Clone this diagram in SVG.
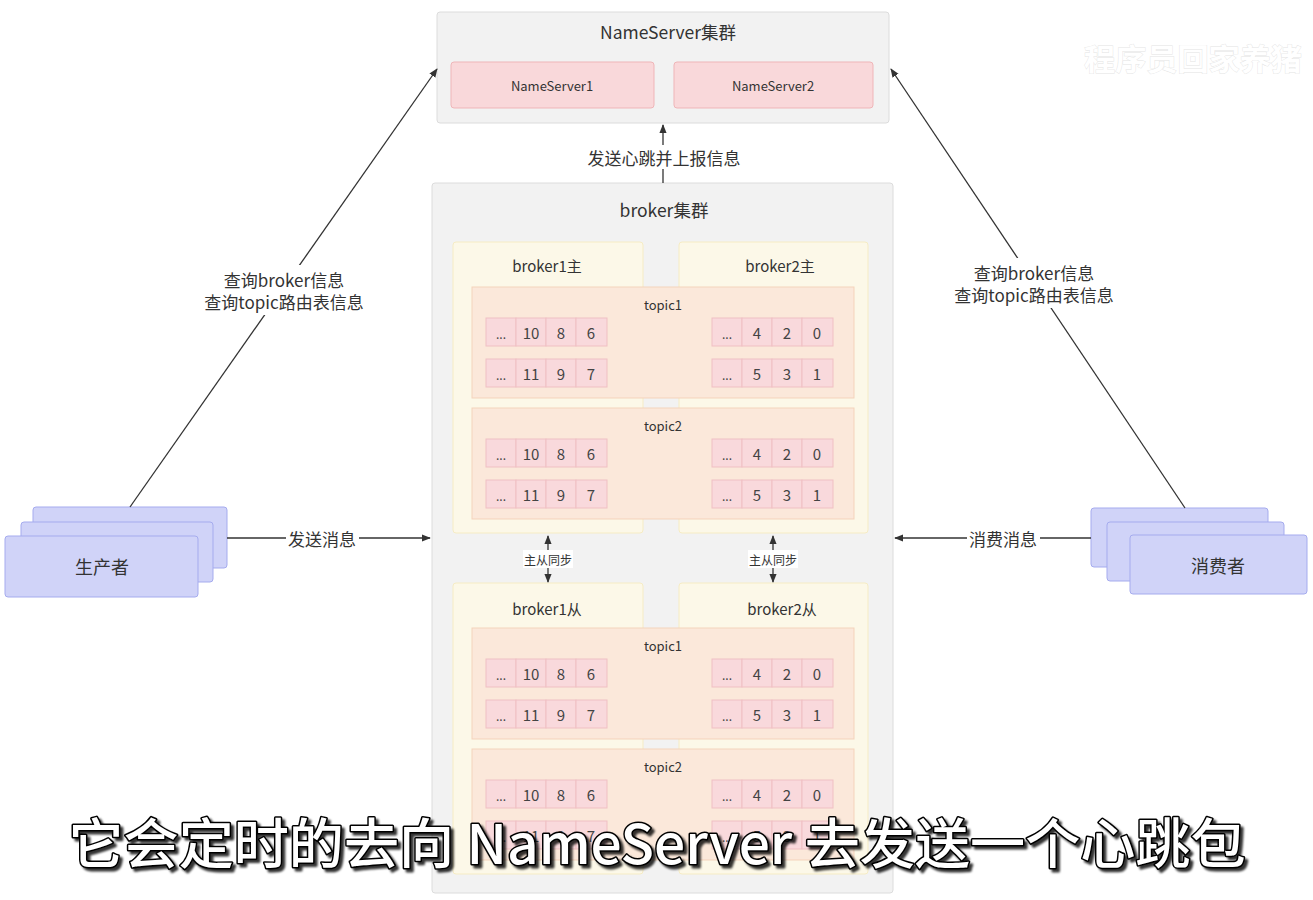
<svg xmlns="http://www.w3.org/2000/svg" width="1313" height="900" viewBox="0 0 1313 900">
<style>
text{font-family:"Noto Sans CJK SC","Microsoft YaHei","Noto Sans",sans-serif;fill:#333;text-anchor:middle;dominant-baseline:central}
.cluster{fill:#f2f2f2;stroke:#dcdcdc;stroke-width:1}
.ns{fill:#f9d8da;stroke:#efb5b8;stroke-width:1}
.broker{fill:#fcf8e8;stroke:#f6ecc4;stroke-width:1}
.topic{fill:#fbe8da;stroke:#f4d3bb;stroke-width:1}
.cell{fill:#f9d9dc;stroke:#f0bfc3;stroke-width:1}
.client{fill:#d0d3f8;stroke:#a5abee;stroke-width:1}
.t17{font-size:17.5px}
.lab{font-size:17px}
.t18{font-size:18px}
.t15{font-size:15px}
.t13{font-size:13px}
.t12{font-size:12px}
.num{font-size:15px;fill:#444}
.dots{font-size:12px;fill:#444}
.line{stroke:#333;stroke-width:1.3;fill:none}
.lbg{fill:#ffffff}
.sub{font-size:54px;fill:#ffffff;stroke:#000;stroke-width:3;paint-order:stroke;stroke-linejoin:round;font-weight:500}
.wm{font-size:30px;fill:#ffffff;stroke:#e4e4e4;stroke-width:0.8;paint-order:stroke;font-weight:bold}
</style>
<defs>
<marker id="ah" viewBox="0 0 10 10" refX="9" refY="5" markerWidth="9" markerHeight="9" markerUnits="userSpaceOnUse" orient="auto-start-reverse">
<path d="M0,1 L10,5 L0,9 z" fill="#333"/>
</marker>
<filter id="shadow" x="-5%" y="-30%" width="110%" height="160%">
<feDropShadow dx="3" dy="3" stdDeviation="0.8" flood-color="#000" flood-opacity="0.8"/>
</filter>
</defs>
<rect width="1313" height="900" fill="#ffffff"/>

<g id="nameserver-cluster">
<rect class="cluster" x="437" y="12" width="452" height="111" rx="3"/>
<text class="t17" x="668" y="31">NameServer集群</text>
</g>
<g id="nameserver1">
<rect class="ns" x="451" y="62" width="203" height="46" rx="3"/>
<text class="t13" x="552" y="85">NameServer1</text>
</g>
<g id="nameserver2">
<rect class="ns" x="674" y="62" width="199" height="46" rx="3"/>
<text class="t13" x="773" y="85">NameServer2</text>
</g>

<g id="broker-cluster">
<rect class="cluster" x="432" y="183" width="461" height="710" rx="3"/>
<text class="t17" x="664" y="209">broker集群</text>
</g>

<g id="broker1-master">
<rect class="broker" x="453" y="242" width="190" height="291" rx="3"/>
<text class="t15" x="547" y="265">broker1主</text>
</g>
<g id="broker2-master">
<rect class="broker" x="679" y="242" width="189" height="291" rx="3"/>
<text class="t15" x="780" y="265">broker2主</text>
</g>
<g id="broker1-slave">
<rect class="broker" x="453" y="583" width="190" height="291" rx="3"/>
<text class="t15" x="547" y="608">broker1从</text>
</g>
<g id="broker2-slave">
<rect class="broker" x="679" y="583" width="189" height="291" rx="3"/>
<text class="t15" x="782" y="608">broker2从</text>
</g>

<g id="master-topic1" transform="translate(472,287)">
<rect class="topic" x="0" y="0" width="382" height="111"/>
<text class="t13" x="191" y="17">topic1</text>
<rect class="cell" x="14" y="31" width="30" height="28"/><rect class="cell" x="44" y="31" width="30" height="28"/><rect class="cell" x="74" y="31" width="30" height="28"/><rect class="cell" x="104" y="31" width="31" height="28"/>
<text class="dots" x="29" y="46">...</text><text class="num" x="59" y="45">10</text><text class="num" x="89" y="45">8</text><text class="num" x="119" y="45">6</text>
<rect class="cell" x="240" y="31" width="30" height="28"/><rect class="cell" x="270" y="31" width="30" height="28"/><rect class="cell" x="300" y="31" width="30" height="28"/><rect class="cell" x="330" y="31" width="31" height="28"/>
<text class="dots" x="255" y="46">...</text><text class="num" x="285" y="45">4</text><text class="num" x="315" y="45">2</text><text class="num" x="345" y="45">0</text>
<rect class="cell" x="14" y="72" width="30" height="28"/><rect class="cell" x="44" y="72" width="30" height="28"/><rect class="cell" x="74" y="72" width="30" height="28"/><rect class="cell" x="104" y="72" width="31" height="28"/>
<text class="dots" x="29" y="87">...</text><text class="num" x="59" y="86">11</text><text class="num" x="89" y="86">9</text><text class="num" x="119" y="86">7</text>
<rect class="cell" x="240" y="72" width="30" height="28"/><rect class="cell" x="270" y="72" width="30" height="28"/><rect class="cell" x="300" y="72" width="30" height="28"/><rect class="cell" x="330" y="72" width="31" height="28"/>
<text class="dots" x="255" y="87">...</text><text class="num" x="285" y="86">5</text><text class="num" x="315" y="86">3</text><text class="num" x="345" y="86">1</text>
</g>

<g id="master-topic2" transform="translate(472,408)">
<rect class="topic" x="0" y="0" width="382" height="111"/>
<text class="t13" x="191" y="17">topic2</text>
<rect class="cell" x="14" y="31" width="30" height="28"/><rect class="cell" x="44" y="31" width="30" height="28"/><rect class="cell" x="74" y="31" width="30" height="28"/><rect class="cell" x="104" y="31" width="31" height="28"/>
<text class="dots" x="29" y="46">...</text><text class="num" x="59" y="45">10</text><text class="num" x="89" y="45">8</text><text class="num" x="119" y="45">6</text>
<rect class="cell" x="240" y="31" width="30" height="28"/><rect class="cell" x="270" y="31" width="30" height="28"/><rect class="cell" x="300" y="31" width="30" height="28"/><rect class="cell" x="330" y="31" width="31" height="28"/>
<text class="dots" x="255" y="46">...</text><text class="num" x="285" y="45">4</text><text class="num" x="315" y="45">2</text><text class="num" x="345" y="45">0</text>
<rect class="cell" x="14" y="72" width="30" height="28"/><rect class="cell" x="44" y="72" width="30" height="28"/><rect class="cell" x="74" y="72" width="30" height="28"/><rect class="cell" x="104" y="72" width="31" height="28"/>
<text class="dots" x="29" y="87">...</text><text class="num" x="59" y="86">11</text><text class="num" x="89" y="86">9</text><text class="num" x="119" y="86">7</text>
<rect class="cell" x="240" y="72" width="30" height="28"/><rect class="cell" x="270" y="72" width="30" height="28"/><rect class="cell" x="300" y="72" width="30" height="28"/><rect class="cell" x="330" y="72" width="31" height="28"/>
<text class="dots" x="255" y="87">...</text><text class="num" x="285" y="86">5</text><text class="num" x="315" y="86">3</text><text class="num" x="345" y="86">1</text>
</g>

<g id="slave-topic1" transform="translate(472,628)">
<rect class="topic" x="0" y="0" width="382" height="111"/>
<text class="t13" x="191" y="17">topic1</text>
<rect class="cell" x="14" y="31" width="30" height="28"/><rect class="cell" x="44" y="31" width="30" height="28"/><rect class="cell" x="74" y="31" width="30" height="28"/><rect class="cell" x="104" y="31" width="31" height="28"/>
<text class="dots" x="29" y="46">...</text><text class="num" x="59" y="45">10</text><text class="num" x="89" y="45">8</text><text class="num" x="119" y="45">6</text>
<rect class="cell" x="240" y="31" width="30" height="28"/><rect class="cell" x="270" y="31" width="30" height="28"/><rect class="cell" x="300" y="31" width="30" height="28"/><rect class="cell" x="330" y="31" width="31" height="28"/>
<text class="dots" x="255" y="46">...</text><text class="num" x="285" y="45">4</text><text class="num" x="315" y="45">2</text><text class="num" x="345" y="45">0</text>
<rect class="cell" x="14" y="72" width="30" height="28"/><rect class="cell" x="44" y="72" width="30" height="28"/><rect class="cell" x="74" y="72" width="30" height="28"/><rect class="cell" x="104" y="72" width="31" height="28"/>
<text class="dots" x="29" y="87">...</text><text class="num" x="59" y="86">11</text><text class="num" x="89" y="86">9</text><text class="num" x="119" y="86">7</text>
<rect class="cell" x="240" y="72" width="30" height="28"/><rect class="cell" x="270" y="72" width="30" height="28"/><rect class="cell" x="300" y="72" width="30" height="28"/><rect class="cell" x="330" y="72" width="31" height="28"/>
<text class="dots" x="255" y="87">...</text><text class="num" x="285" y="86">5</text><text class="num" x="315" y="86">3</text><text class="num" x="345" y="86">1</text>
</g>

<g id="slave-topic2" transform="translate(472,749)">
<rect class="topic" x="0" y="0" width="382" height="111"/>
<text class="t13" x="191" y="17">topic2</text>
<rect class="cell" x="14" y="31" width="30" height="28"/><rect class="cell" x="44" y="31" width="30" height="28"/><rect class="cell" x="74" y="31" width="30" height="28"/><rect class="cell" x="104" y="31" width="31" height="28"/>
<text class="dots" x="29" y="46">...</text><text class="num" x="59" y="45">10</text><text class="num" x="89" y="45">8</text><text class="num" x="119" y="45">6</text>
<rect class="cell" x="240" y="31" width="30" height="28"/><rect class="cell" x="270" y="31" width="30" height="28"/><rect class="cell" x="300" y="31" width="30" height="28"/><rect class="cell" x="330" y="31" width="31" height="28"/>
<text class="dots" x="255" y="46">...</text><text class="num" x="285" y="45">4</text><text class="num" x="315" y="45">2</text><text class="num" x="345" y="45">0</text>
<rect class="cell" x="14" y="72" width="30" height="28"/><rect class="cell" x="44" y="72" width="30" height="28"/><rect class="cell" x="74" y="72" width="30" height="28"/><rect class="cell" x="104" y="72" width="31" height="28"/>
<text class="dots" x="29" y="87">...</text><text class="num" x="59" y="86">11</text><text class="num" x="89" y="86">9</text><text class="num" x="119" y="86">7</text>
<rect class="cell" x="240" y="72" width="30" height="28"/><rect class="cell" x="270" y="72" width="30" height="28"/><rect class="cell" x="300" y="72" width="30" height="28"/><rect class="cell" x="330" y="72" width="31" height="28"/>
<text class="dots" x="255" y="87">...</text><text class="num" x="285" y="86">5</text><text class="num" x="315" y="86">3</text><text class="num" x="345" y="86">1</text>
</g>

<g id="producer">
<rect class="client" x="33" y="507" width="194" height="61" rx="3"/>
<rect class="client" x="21" y="522" width="192" height="60" rx="3"/>
<rect class="client" x="5" y="536" width="193" height="61" rx="3"/>
<text class="t18" x="102" y="566">生产者</text>
</g>

<g id="consumer">
<rect class="client" x="1091" y="508" width="177" height="59" rx="3"/>
<rect class="client" x="1107" y="522" width="177" height="59" rx="3"/>
<rect class="client" x="1130" y="535" width="177" height="59" rx="3"/>
<text class="t18" x="1218" y="565">消费者</text>
</g>

<g id="connectors">
<line class="line" x1="663" y1="183" x2="663" y2="125" marker-end="url(#ah)"/>
<rect class="lbg" x="583" y="145" width="162" height="24"/>
<text class="lab" x="664" y="157">发送心跳并上报信息</text>

<line class="line" x1="130" y1="507" x2="437" y2="69" marker-end="url(#ah)"/>
<rect class="lbg" x="200" y="265" width="168" height="50"/>
<text class="lab" x="284" y="279">查询broker信息</text>
<text class="lab" x="284" y="301">查询topic路由表信息</text>

<line class="line" x1="1185" y1="508" x2="891" y2="69" marker-end="url(#ah)"/>
<rect class="lbg" x="950" y="258" width="168" height="50"/>
<text class="lab" x="1034" y="272">查询broker信息</text>
<text class="lab" x="1034" y="294">查询topic路由表信息</text>

<line class="line" x1="227" y1="538" x2="430" y2="538" marker-end="url(#ah)"/>
<rect class="lbg" x="286" y="527" width="73" height="22"/>
<text class="lab" x="322" y="538">发送消息</text>

<line class="line" x1="1091" y1="538" x2="895" y2="538" marker-end="url(#ah)"/>
<rect class="lbg" x="967" y="527" width="73" height="22"/>
<text class="lab" x="1003" y="538">消费消息</text>

<line class="line" x1="548" y1="536" x2="548" y2="582" marker-start="url(#ah)" marker-end="url(#ah)"/>
<rect class="lbg" x="523" y="550" width="50" height="18"/>
<text class="t12" x="548" y="559">主从同步</text>

<line class="line" x1="773" y1="536" x2="773" y2="582" marker-start="url(#ah)" marker-end="url(#ah)"/>
<rect class="lbg" x="748" y="550" width="50" height="18"/>
<text class="t12" x="773" y="559">主从同步</text>
</g>

<text class="wm" x="1193" y="57" textLength="218" lengthAdjust="spacingAndGlyphs">程序员回家养猪</text>
<text class="sub" x="657" y="840" textLength="1177" lengthAdjust="spacingAndGlyphs" filter="url(#shadow)">它会定时的去向 NameServer 去发送一个心跳包</text>
</svg>
